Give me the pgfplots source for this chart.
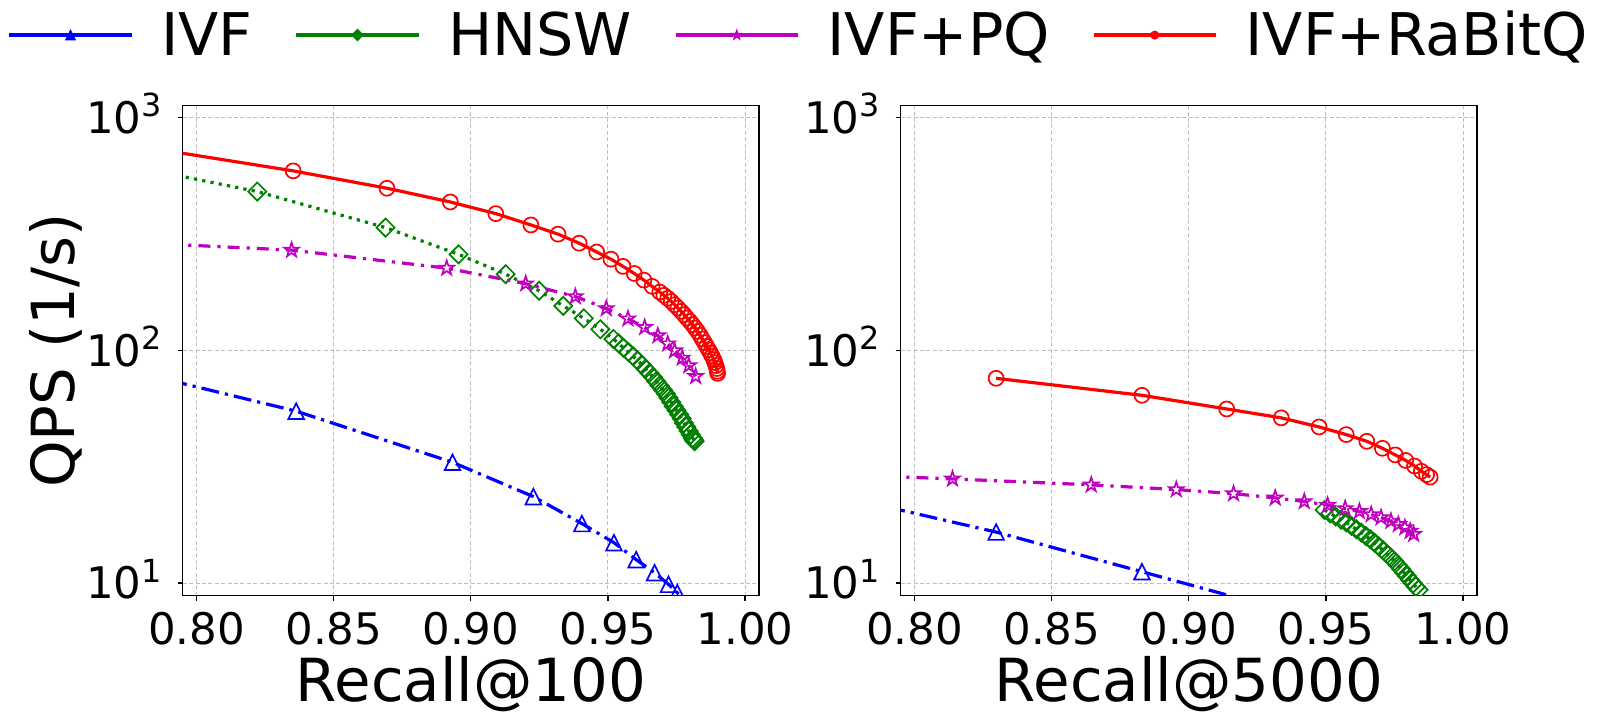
\documentclass[border=0pt]{standalone}
\usepackage{fontspec}
\setmainfont{DejaVu Sans}
\usepackage{pgfplots}
\pgfplotsset{compat=1.18}

\definecolor{mplblue}{RGB}{0,0,255}
\definecolor{mplgreen}{RGB}{0,128,0}
\definecolor{mplmag}{RGB}{191,0,191}
\definecolor{mplred}{RGB}{255,0,0}

\pgfdeclareplotmark{mtri}{%
  \pgfpathmoveto{\pgfqpoint{0pt}{\pgfplotmarksize}}%
  \pgfpathlineto{\pgfqpoint{-\pgfplotmarksize}{-\pgfplotmarksize}}%
  \pgfpathlineto{\pgfqpoint{\pgfplotmarksize}{-\pgfplotmarksize}}%
  \pgfpathclose\pgfusepathqstroke}
\pgfdeclareplotmark{mtrif}{%
  \pgfpathmoveto{\pgfqpoint{0pt}{\pgfplotmarksize}}%
  \pgfpathlineto{\pgfqpoint{-\pgfplotmarksize}{-\pgfplotmarksize}}%
  \pgfpathlineto{\pgfqpoint{\pgfplotmarksize}{-\pgfplotmarksize}}%
  \pgfpathclose\pgfusepathqfillstroke}
\pgfdeclareplotmark{mdiam}{%
  \pgfpathmoveto{\pgfqpoint{0pt}{1.414\pgfplotmarksize}}%
  \pgfpathlineto{\pgfqpoint{1.414\pgfplotmarksize}{0pt}}%
  \pgfpathlineto{\pgfqpoint{0pt}{-1.414\pgfplotmarksize}}%
  \pgfpathlineto{\pgfqpoint{-1.414\pgfplotmarksize}{0pt}}%
  \pgfpathclose\pgfusepathqstroke}
\pgfdeclareplotmark{mdiamf}{%
  \pgfpathmoveto{\pgfqpoint{0pt}{1.414\pgfplotmarksize}}%
  \pgfpathlineto{\pgfqpoint{1.414\pgfplotmarksize}{0pt}}%
  \pgfpathlineto{\pgfqpoint{0pt}{-1.414\pgfplotmarksize}}%
  \pgfpathlineto{\pgfqpoint{-1.414\pgfplotmarksize}{0pt}}%
  \pgfpathclose\pgfusepathqfillstroke}
\def\mstarpath{%
  \pgfpathmoveto{\pgfqpoint{0pt}{\pgfplotmarksize}}%
  \pgfpathlineto{\pgfqpoint{-0.2245\pgfplotmarksize}{0.3090\pgfplotmarksize}}%
  \pgfpathlineto{\pgfqpoint{-0.9511\pgfplotmarksize}{0.3090\pgfplotmarksize}}%
  \pgfpathlineto{\pgfqpoint{-0.3633\pgfplotmarksize}{-0.1180\pgfplotmarksize}}%
  \pgfpathlineto{\pgfqpoint{-0.5878\pgfplotmarksize}{-0.8090\pgfplotmarksize}}%
  \pgfpathlineto{\pgfqpoint{0pt}{-0.382\pgfplotmarksize}}%
  \pgfpathlineto{\pgfqpoint{0.5878\pgfplotmarksize}{-0.8090\pgfplotmarksize}}%
  \pgfpathlineto{\pgfqpoint{0.3633\pgfplotmarksize}{-0.1180\pgfplotmarksize}}%
  \pgfpathlineto{\pgfqpoint{0.9511\pgfplotmarksize}{0.3090\pgfplotmarksize}}%
  \pgfpathlineto{\pgfqpoint{0.2245\pgfplotmarksize}{0.3090\pgfplotmarksize}}%
  \pgfpathclose}
\pgfdeclareplotmark{mstar}{\mstarpath\pgfusepathqstroke}
\pgfdeclareplotmark{mstarf}{\mstarpath\pgfusepathqfillstroke}

\newcommand{\tp}[1]{10\raisebox{8.3pt}{\fontsize{15.9}{16}\selectfont #1}}

\tikzset{
  ivf/.style={mplblue, line width=1.6pt, line cap=butt, dash pattern=on 9pt off 3pt on 1.6pt off 3pt, mark=mtri, mark size=3.9pt, mark options={solid, line width=0.85pt, fill=none}},
  hnsw/.style={mplgreen, line width=1.6pt, line cap=butt, dash pattern=on 1.6pt off 2.6pt, mark=mdiam, mark size=3.2pt, mark options={solid, line width=0.85pt, fill=none}},
  pq/.style={mplmag, line width=1.6pt, line cap=butt, dash pattern=on 6pt off 3.5pt on 1.6pt off 3.5pt, mark=mstar, mark size=3.8pt, mark options={solid, line width=0.85pt, fill=none}},
  rbq/.style={mplred, line width=1.6pt, solid, mark=o, mark size=3.75pt, mark options={solid, line width=0.85pt, fill=none}},
}

\pgfplotsset{legend image code/.code={\draw[mark repeat=2,mark phase=2,#1] plot coordinates {(0pt,0pt) (30.6pt,0pt) (61.2pt,0pt)};}}

\begin{document}
\begin{tikzpicture}
\useasboundingbox (0,0) rectangle (800pt,359.5pt);

\begin{axis}[at={(91.35pt,61.65pt)}, anchor=south west,
    scale only axis, width=288.15pt, height=245pt,
    xmin=0.7949, xmax=1.0051,
    ymode=log, ymin=8.82, ymax=1122,
    xtick={0.8,0.85,0.9,0.95,1.0},
    xticklabels={0.80,0.85,0.90,0.95,1.00},
    ytick={10,100,1000},
    yticklabels={\tp{1},\tp{2},\tp{3}},
    yminorticks=false,
    tick align=outside, xtick pos=bottom, ytick pos=left,
    major tick length=2.5pt,
    tick style={black, line width=0.6pt},
    axis line style={black, line width=0.7pt},
    grid=major,
    grid style={black!25, line width=0.5pt, dash pattern=on 2pt off 1.2pt},
    ticklabel style={font=\fontsize{21.75}{22}\selectfont, inner sep=0pt},
    xticklabel style={anchor=base, yshift=-22.15pt},
    yticklabel style={anchor=base east, xshift=-7.85pt, yshift=-7.93pt},
    label style={font=\fontsize{29.7}{30}\selectfont},
    xlabel style={at={(axis description cs:0.5,-0.2163)}, anchor=base, inner sep=0pt},
    ylabel style={at={(axis description cs:-0.1869,0.5)}, anchor=base, inner sep=0pt},
    clip marker paths=true,
  xlabel={Recall@100}, ylabel={QPS (1/s)},
  legend columns=4,
  legend style={at={(axis description cs:-0.30366,1.1441)}, anchor=west,
    draw=none, fill=none, inner sep=0pt, outer sep=0pt,
    font=\fontsize{29.4}{30}\selectfont,
    nodes={inner sep=0pt},
    /tikz/every odd column/.append style={column sep=14pt},
    /tikz/every even column/.append style={column sep=21pt}},
]
% IVF
\addplot[ivf, forget plot] coordinates {
(0.79,74.3) (0.8363,54.7) (0.8933,33.0) (0.9228,23.5) (0.9405,18.0) (0.9522,14.9)
(0.9603,12.6) (0.9670,11.07) (0.9721,9.87) (0.9753,9.09) (0.978,8.4)};
% HNSW
\addplot[hnsw, forget plot] coordinates {
(0.79,572) (0.8221,480) (0.8689,336) (0.8955,258) (0.9127,212) (0.9249,180)
(0.9337,155) (0.9412,137) (0.9472,123) (0.9520,111.7) (0.9539,107) (0.9557,102.2)
(0.9575,98) (0.9592,94.1) (0.9608,90.3) (0.9623,86.7) (0.9637,83.2) (0.9651,79.8)
(0.9664,76.6) (0.9676,73.5) (0.9688,70.5) (0.9700,67.7) (0.9711,65) (0.9721,62.4)
(0.9731,59.8) (0.9740,57.4) (0.9750,55.1) (0.9760,52.9) (0.9769,50.8) (0.9777,48.7)
(0.9786,46.8) (0.9795,44.9) (0.9802,43.4) (0.9809,42.0) (0.9813,41.3) (0.9816,40.6)};
% IVF+PQ
\addplot[pq, forget plot] coordinates {
(0.79,285) (0.8346,269) (0.8912,225) (0.9200,193) (0.9381,170) (0.9494,151)
(0.9573,136.5) (0.9634,125.3) (0.9682,115.4) (0.9718,106.6) (0.9743,99.5)
(0.9771,92.6) (0.9795,85.8) (0.9820,77.2)};
% IVF+RaBitQ
\addplot[rbq, forget plot] coordinates {
(0.79,716) (0.8352,589) (0.8694,496) (0.8925,433) (0.9091,386) (0.9219,345)
(0.9318,315) (0.9395,288) (0.9459,264) (0.9511,246) (0.9555,229) (0.9596,213.5)
(0.9631,200) (0.9661,188) (0.9689,177.7) (0.9704,172) (0.9718,167) (0.9731,162)
(0.9743,156.7) (0.9755,151.7) (0.9767,146.8) (0.9778,142) (0.9788,137.4) (0.9799,133)
(0.9809,128.6) (0.9818,124.5) (0.9827,120.4) (0.9836,116) (0.9844,111.7) (0.9852,107.8)
(0.9860,103.9) (0.9867,100.5) (0.9874,97.3) (0.9880,94.2) (0.9886,91.1) (0.9890,88.4)
(0.9894,85.8) (0.9897,83.4) (0.9899,81.1) (0.9900,79.5)};

\addlegendimage{mplblue, line width=1.6pt, solid, mark=mtrif, mark size=2.4pt, mark options={solid, line width=0.5pt}}
\addlegendimage{mplgreen, line width=1.6pt, solid, mark=mdiamf, mark size=2pt, mark options={solid, line width=0.5pt}}
\addlegendimage{mplmag, line width=1.6pt, solid, mark=mstarf, mark size=2.6pt, mark options={solid, line width=0.5pt}}
\addlegendimage{mplred, line width=1.6pt, solid, mark=*, mark size=2pt, mark options={solid, line width=0.5pt}}
\legend{IVF,HNSW,IVF+PQ,IVF+RaBitQ}
\end{axis}

\begin{axis}[at={(450.35pt,61.65pt)}, anchor=south west,
    scale only axis, width=288.15pt, height=245pt,
    xmin=0.7949, xmax=1.0051,
    ymode=log, ymin=8.82, ymax=1122,
    xtick={0.8,0.85,0.9,0.95,1.0},
    xticklabels={0.80,0.85,0.90,0.95,1.00},
    ytick={10,100,1000},
    yticklabels={\tp{1},\tp{2},\tp{3}},
    yminorticks=false,
    tick align=outside, xtick pos=bottom, ytick pos=left,
    major tick length=2.5pt,
    tick style={black, line width=0.6pt},
    axis line style={black, line width=0.7pt},
    grid=major,
    grid style={black!25, line width=0.5pt, dash pattern=on 2pt off 1.2pt},
    ticklabel style={font=\fontsize{21.75}{22}\selectfont, inner sep=0pt},
    xticklabel style={anchor=base, yshift=-22.15pt},
    yticklabel style={anchor=base east, xshift=-7.85pt, yshift=-7.93pt},
    label style={font=\fontsize{29.7}{30}\selectfont},
    xlabel style={at={(axis description cs:0.5,-0.2163)}, anchor=base, inner sep=0pt},
    clip marker paths=true,
  xlabel={Recall@5000}]
% IVF
\addplot[ivf] coordinates {
(0.79,21.2) (0.8297,16.55) (0.8829,11.18) (0.935,7.6)};
% HNSW
\addplot[hnsw] coordinates {
(0.9495,20.6) (0.9515,19.9) (0.9535,19.3) (0.9555,18.7) (0.9574,18.2) (0.9593,17.6)
(0.9611,17.0) (0.9629,16.45) (0.9646,15.9) (0.9662,15.4) (0.9677,14.9) (0.9693,14.35)
(0.9709,13.8) (0.9723,13.3) (0.9737,12.85) (0.9750,12.4) (0.9763,11.9) (0.9774,11.5)
(0.9785,11.07) (0.9796,10.7) (0.9807,10.3) (0.9818,9.95) (0.9828,9.64) (0.9838,9.35)};
% IVF+PQ
\addplot[pq] coordinates {
(0.79,28.7) (0.8138,28.0) (0.8644,26.4) (0.8954,25.2) (0.9163,24.2) (0.9315,23.2)
(0.9421,22.4) (0.9506,21.6) (0.9570,20.9) (0.9622,20.3) (0.9665,19.7) (0.9701,19.1)
(0.9737,18.45) (0.9764,17.85) (0.9788,17.3) (0.9807,16.7) (0.9820,16.2)};
% IVF+RaBitQ
\addplot[rbq] coordinates {
(0.8297,75.7) (0.8829,64.0) (0.9138,55.9) (0.9337,51.2) (0.9475,46.8) (0.9574,43.4)
(0.9649,40.6) (0.9706,37.9) (0.9753,35.5) (0.9791,33.6) (0.9823,31.8) (0.9848,30.2)
(0.9867,29.2) (0.9880,28.5)};
\end{axis}
\end{tikzpicture}
\end{document}
